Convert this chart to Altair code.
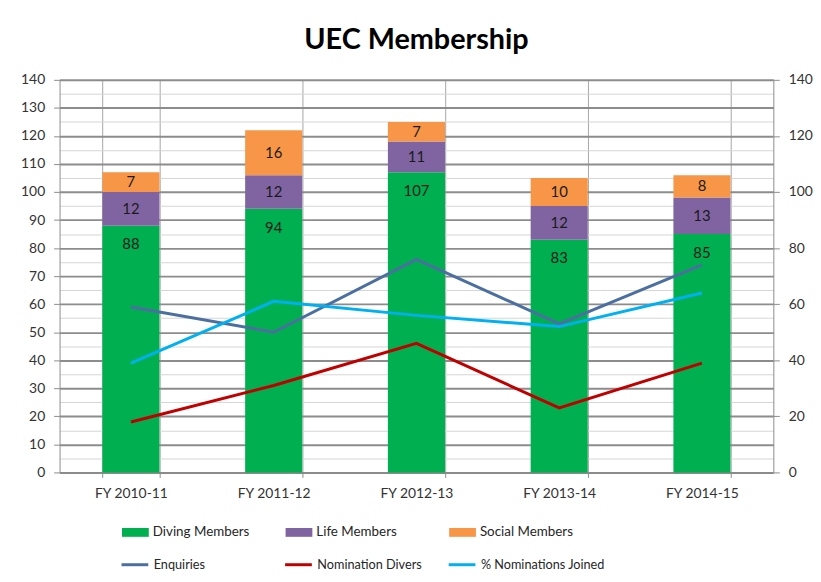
import altair as alt
import pandas as pd

categories = ["FY 2010-11", "FY 2011-12", "FY 2012-13", "FY 2013-14", "FY 2014-15"]
diving = [88, 94, 107, 83, 85]
life = [12, 12, 11, 12, 13]
social = [7, 16, 7, 10, 8]
enquiries = [59, 50, 76, 53, 74]
nom_divers = [18, 31, 46, 23, 39]
pct_joined = [39, 61, 56, 52, 64]

bar_series = ["Diving Members", "Life Members", "Social Members"]
bar_colors = ["#00B050", "#8064A2", "#F79646"]
line_series = ["Enquiries", "Nomination Divers", "% Nominations Joined"]
line_colors = ["#4A6FA0", "#C00000", "#00B0F0"]

FONT = "Lato"

rows = []
for i, c in enumerate(categories):
    start = 0
    for s, vals in zip(bar_series, [diving, life, social]):
        v = vals[i]
        rows.append({"category": c, "series": s, "value": v, "start": start,
                     "end": start + v, "mid": start + v / 2})
        start += v
bars_df = pd.DataFrame(rows)

lrows = []
for s, vals in zip(line_series, [enquiries, nom_divers, pct_joined]):
    for c, v in zip(categories, vals):
        lrows.append({"category": c, "series": s, "value": v})
lines_df = pd.DataFrame(lrows)

x_scale = alt.Scale(paddingInner=0.6, paddingOuter=0.3)
x_axis = alt.Axis(tickBand="extent", grid=True, gridColor="#a6a6a6", gridWidth=1,
                  domainColor="#8c8c8c", tickColor="#8c8c8c", tickSize=5,
                  labelPadding=9, labelFontSize=14, labelFont=FONT, labelColor="#333333",
                  labelAngle=0, title=None)


def xenc():
    return alt.X("category:N", sort=categories, title=None, scale=x_scale, axis=x_axis)


y_scale = alt.Scale(domain=[0, 140], nice=False)
major = "datum.value % 10 === 0"
y_axis = alt.Axis(values=list(range(0, 141, 5)), grid=True, labelOverlap=False,
                  gridColor=alt.condition(major, alt.value("#8c8c8c"), alt.value("#d6d6d6")),
                  gridWidth=alt.condition(major, alt.value(2), alt.value(1)),
                  tickColor=alt.condition(major, alt.value("#8c8c8c"), alt.value("transparent")),
                  labelExpr="datum.value % 10 === 0 ? datum.label : ''",
                  domainColor="#8c8c8c", tickSize=6, labelPadding=9,
                  labelFontSize=14, labelFont=FONT, labelColor="#333333", title=None)

bars = alt.Chart(bars_df).mark_bar().encode(
    x=xenc(),
    y=alt.Y("start:Q", scale=y_scale, title=None, axis=y_axis),
    y2="end:Q",
    fill=alt.Fill("series:N", scale=alt.Scale(domain=bar_series, range=bar_colors),
                  legend=alt.Legend(title=None, orient="none", legendX=63, legendY=443,
                                    direction="horizontal", columns=3, gridAlign="all",
                                    columnPadding=36, padding=0,
                                    symbolType="M-1,-0.33H1V0.33H-1Z", symbolSize=729,
                                    symbolStrokeWidth=0, symbolOpacity=1,
                                    labelFontSize=13.5, labelFont=FONT, labelColor="#262626",
                                    labelOffset=4)),
)

text_green = alt.Chart(bars_df).transform_filter(
    alt.datum.series == "Diving Members"
).mark_text(dy=19, fontSize=15, font=FONT, color="#1a1a1a", baseline="middle").encode(
    x=xenc(),
    y=alt.Y("end:Q", scale=y_scale, title=None, axis=y_axis),
    text="value:Q",
)

text_other = alt.Chart(bars_df).transform_filter(
    alt.datum.series != "Diving Members"
).mark_text(fontSize=15, font=FONT, color="#1a1a1a", baseline="middle").encode(
    x=xenc(),
    y=alt.Y("mid:Q", scale=y_scale, title=None, axis=y_axis),
    text="value:Q",
)

lines = alt.Chart(lines_df).mark_line(strokeWidth=3).encode(
    x=xenc(),
    y=alt.Y("value:Q", scale=y_scale, title=None,
            axis=alt.Axis(orient="right", values=list(range(0, 141, 20)), grid=False,
                          domainColor="#8c8c8c", tickColor="#8c8c8c", tickSize=6,
                          labelPadding=9, labelFontSize=14, labelFont=FONT,
                          labelColor="#333333", title=None)),
    stroke=alt.Stroke("series:N", scale=alt.Scale(domain=line_series, range=line_colors),
                      legend=alt.Legend(title=None, orient="none", legendX=61, legendY=474,
                                        direction="horizontal", columns=3, gridAlign="all",
                                        columnPadding=0, padding=0,
                                        symbolType="M-1,0H1", symbolSize=729,
                                        symbolStrokeWidth=3,
                                        labelFontSize=12.8, labelFont=FONT, labelColor="#262626",
                                        labelOffset=4)),
    detail="series:N",
)

chart = alt.layer(alt.layer(bars, text_green, text_other), lines).resolve_scale(
    y="independent"
).properties(
    width=720, height=396,
    padding={"left": 52, "top": 70, "right": 40, "bottom": 100},
    autosize=alt.AutoSizeParams(type="none"),
    title=alt.TitleParams("UEC Membership", fontSize=29, fontWeight="bold", font=FONT,
                          color="#000000", anchor="middle", offset=18),
    background="white",
).configure_view(strokeWidth=0)

chart.save("out.html", embed_options={"renderer": "svg", "actions": False})
